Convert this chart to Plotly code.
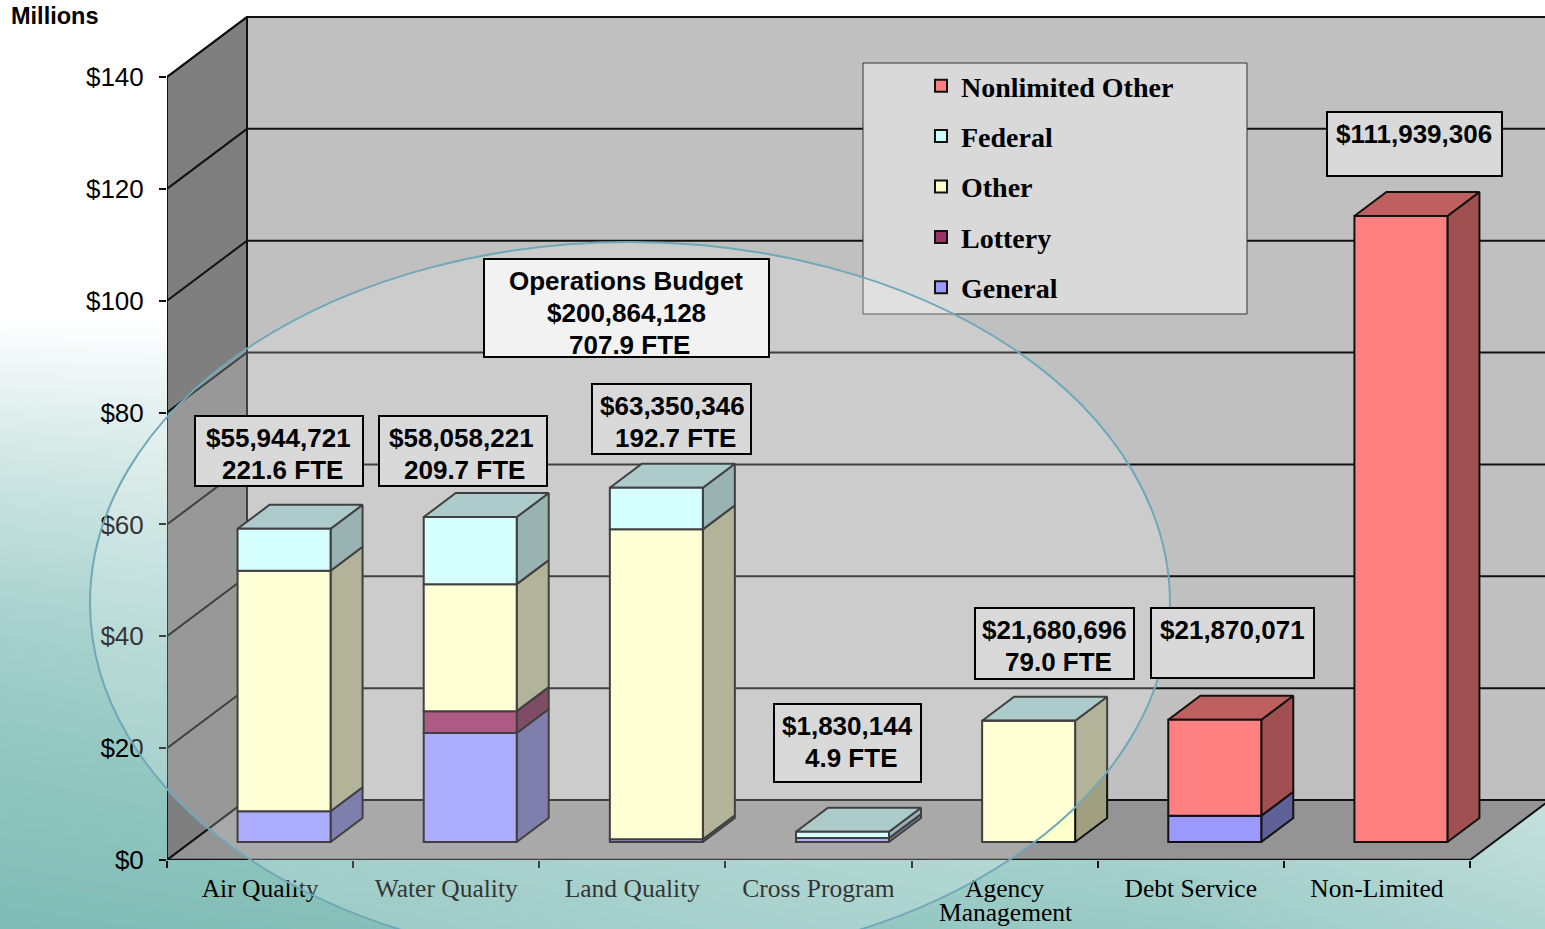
import plotly.graph_objects as go

W, H = 1545, 929

CATEGORIES = ["Air Quality", "Water Quality", "Land Quality", "Cross Program",
              "Agency", "Debt Service", "Non-Limited"]
CATEGORY_SECOND_LINE = "Management"   # second line of the "Agency Management" label
GENERAL = [5.5, 19.5, 0.5, 0.7, None, 4.7, None]
LOTTERY = [None, 3.9, None, None, None, None, None]
OTHER = [43.0, 22.7, 55.4, None, 21.68, None, None]
FEDERAL = [7.5, 12.0, 7.45, 1.13, 0.0, None, None]
NONLIMITED = [None, None, None, None, None, 17.17, 111.94]

SERIES_NAMES = ["General", "Lottery", "Other", "Federal", "Nonlimited Other"]
SERIES_VALUES = [GENERAL, LOTTERY, OTHER, FEDERAL, NONLIMITED]
SERIES_COLORS = ["#9999FF", "#993366", "#FFFFCC", "#CCFFFF", "#FF8080"]
SIDE_COLORS = ["#606099", "#602040", "#A0A080", "#80A0A0", "#A05050"]
TOP_COLORS = ["#7373BF", "#732650", "#BFBF99", "#99BFBF", "#BF6060"]

Y_TICKS = [0, 20, 40, 60, 80, 100, 120, 140]
Y_LABELS = ["$0", "$20", "$40", "$60", "$80", "$100", "$120", "$140"]

BOX_LINES = [
    ["$55,944,721", "221.6 FTE"],
    ["$58,058,221", "209.7 FTE"],
    ["$63,350,346", "192.7 FTE"],
    ["$1,830,144", "4.9 FTE"],
    ["$21,680,696", "79.0 FTE"],
    ["$21,870,071"],
    ["$111,939,306"],
    ["Operations Budget", "$200,864,128", "707.9 FTE"],
]
BOX_RECTS = [(195, 416, 363, 486), (379, 416, 547, 486), (592, 384, 751, 454),
             (774, 704, 921, 782), (975, 608, 1134, 679), (1151, 608, 1314, 678),
             (1327, 112, 1502, 176), (484, 259, 769, 357)]
BOX_FILLS = ["#D9D9D9"] * 7 + ["#F2F2F2"]
BOX_TEXT_X = [(278, 282), (461, 465), (672, 675), (847, 851), (1054, 1058),
              (1232,), (1414,), (626, 626, 629)]
BOX_TEXT_Y = [(438, 470), (438, 470), (406, 438), (726, 758), (630, 662),
              (630,), (134,), (281, 313, 345)]

# Backdrop tint (0 = white, 1 = deepest teal)
BG_X = [0, 400, 800, 1200, 1545]
BG_Y = [0, 320, 400, 500, 640, 780, 929]
BG_TINT = [
    [0.00, 0.00, 0.00, 0.00, 0.00],
    [0.00, 0.00, 0.00, 0.00, 0.00],
    [0.22, 0.15, 0.10, 0.05, 0.00],
    [0.45, 0.34, 0.25, 0.15, 0.10],
    [0.72, 0.60, 0.48, 0.38, 0.25],
    [0.88, 0.80, 0.70, 0.58, 0.42],
    [1.00, 0.95, 0.85, 0.78, 0.62],
]

# Plot geometry
PX_X = 186.14          # px per category
PX_Y = 783 / 140       # px per million
X0_PX, Y0_PX = 167, 860
X_MAX = (W - X0_PX) / PX_X
Y_MAX = Y0_PX / PX_Y
WALL_DX, WALL_DY = 80 / PX_X, 60 / PX_Y
FRONT_DX, FRONT_DY = 0.3 * WALL_DX, 0.3 * WALL_DY
SIDE_DX, SIDE_DY = 0.4 * WALL_DX, 0.4 * WALL_DY
BAR_W = 93 / PX_X
N = len(CATEGORIES)
LINE = "#111111"


def fx(px):
    return px / W


def fy(px):
    return 1 - px / H


fig = go.Figure()

# backdrop
fig.add_trace(go.Heatmap(x=BG_X, y=BG_Y, z=BG_TINT, zmin=0, zmax=1, zsmooth="best",
                         colorscale=[[0, "#FFFFFF"], [1, "#7FBCB5"]], showscale=False,
                         hoverinfo="skip", xaxis="x", yaxis="y"))


def poly(xs, ys, fill, line=LINE, width=2):
    fig.add_trace(go.Scatter(x=xs, y=ys, mode="lines", fill="toself", fillcolor=fill,
                             line=dict(color=line, width=width), showlegend=False,
                             hoverinfo="skip", xaxis="x2", yaxis="y2"))


def seg(xs, ys, width=2.0):
    fig.add_trace(go.Scatter(x=xs, y=ys, mode="lines", line=dict(color=LINE, width=width),
                             showlegend=False, hoverinfo="skip", xaxis="x2", yaxis="y2"))


# walls and floor
TOP = Y_TICKS[-1]
poly([WALL_DX, X_MAX + 1, X_MAX + 1, WALL_DX, WALL_DX],
     [WALL_DY, WALL_DY, TOP + WALL_DY, TOP + WALL_DY, WALL_DY], "#C0C0C0", width=2)
poly([0, WALL_DX, WALL_DX, 0, 0], [0, WALL_DY, TOP + WALL_DY, TOP, 0], "#7F7F7F", width=2)
poly([0, N, N + WALL_DX, WALL_DX, 0], [0, 0, WALL_DY, WALL_DY, 0], "#949494", width=2)
for v in Y_TICKS[1:]:
    seg([0, WALL_DX, X_MAX + 1], [v, v + WALL_DY, v + WALL_DY])
seg([0, N], [0, 0], 2.5)

# bar side and top faces, computed from the stacked values
for i in range(N):
    x_r = i + 0.5 + FRONT_DX + BAR_W / 2
    x_l = x_r - BAR_W
    base = FRONT_DY
    top_idx = None
    for s, vals in enumerate(SERIES_VALUES):
        v = vals[i]
        if v is None:
            continue
        top_idx = s
        if v > 0:
            poly([x_r, x_r + SIDE_DX, x_r + SIDE_DX, x_r, x_r],
                 [base, base + SIDE_DY, base + v + SIDE_DY, base + v, base], SIDE_COLORS[s])
        base += v
    poly([x_l, x_r, x_r + SIDE_DX, x_l + SIDE_DX, x_l],
         [base, base, base + SIDE_DY, base + SIDE_DY, base], TOP_COLORS[top_idx])

# bar front faces
bases = [FRONT_DY] * N
for s, vals in enumerate(SERIES_VALUES):
    fig.add_trace(go.Bar(
        x=[i + 0.5 + FRONT_DX for i in range(N)], y=vals, base=list(bases), width=BAR_W,
        name=SERIES_NAMES[s], marker=dict(color=SERIES_COLORS[s], line=dict(color=LINE, width=2)),
        legendgroup=SERIES_NAMES[s], legendrank=len(SERIES_NAMES) - s,
        hoverinfo="skip", xaxis="x3", yaxis="y3"))
    bases = [b + (v or 0) for b, v in zip(bases, vals)]

shapes = [
    dict(type="rect", xref="paper", yref="paper", x0=fx(863), x1=fx(1247), y0=fy(314), y1=fy(63),
         fillcolor="#D9D9D9", line=dict(color="#333333", width=1)),
    dict(type="circle", xref="paper", yref="paper", x0=fx(90), x1=fx(1170), y0=fy(964), y1=fy(242),
         fillcolor="rgba(255,255,255,0.2)", line=dict(color="#6FA8B8", width=2)),
]
annotations = [
    dict(text="Millions", xref="paper", yref="paper", x=fx(9), y=fy(16),
         xanchor="left", yanchor="middle", showarrow=False,
         font=dict(family="Liberation Sans", size=23.5, weight=700, color="#000000")),
    dict(text=CATEGORY_SECOND_LINE, xref="paper", yref="paper", x=fx(1005), y=fy(912),
         xanchor="center", yanchor="middle", showarrow=False,
         font=dict(family="Liberation Serif", size=25.5, color="#000000")),
]
for lines, rect, fill, xs, ys in zip(BOX_LINES, BOX_RECTS, BOX_FILLS, BOX_TEXT_X, BOX_TEXT_Y):
    shapes.append(dict(type="rect", xref="paper", yref="paper", x0=fx(rect[0]), x1=fx(rect[2]),
                       y0=fy(rect[3]), y1=fy(rect[1]), fillcolor=fill,
                       line=dict(color="#000000", width=2)))
    for t, x, y in zip(lines, xs, ys):
        annotations.append(dict(text=t, xref="paper", yref="paper", x=fx(x), y=fy(y),
                                xanchor="center", yanchor="middle", showarrow=False,
                                font=dict(family="Liberation Sans", size=26, weight=700, color="#000000")))

x_dom = [X0_PX / W, 1]
y_dom = [(H - Y0_PX) / H, 1]
hidden = dict(visible=False, fixedrange=True)
fig.update_layout(
    width=W, height=H, autosize=False,
    margin=dict(l=0, r=0, t=0, b=0, pad=0, autoexpand=False),
    paper_bgcolor="#FFFFFF", plot_bgcolor="rgba(0,0,0,0)",
    barmode="overlay", shapes=shapes, annotations=annotations,
    xaxis=dict(domain=[0, 1], range=[0, W], anchor="y", **hidden),
    yaxis=dict(domain=[0, 1], range=[H, 0], anchor="x", **hidden),
    xaxis2=dict(domain=x_dom, range=[0, X_MAX], anchor="y2", **hidden),
    yaxis2=dict(domain=y_dom, range=[0, Y_MAX], anchor="x2", **hidden),
    xaxis3=dict(domain=x_dom, range=[0, X_MAX], anchor="y3", fixedrange=True, showgrid=False,
                zeroline=False, showline=False, tickmode="array", automargin=False,
                tickvals=[i + 0.5 for i in range(N)], ticktext=CATEGORIES, ticks="", ticklen=0,
                tickangle=0, tickfont=dict(family="Liberation Serif", size=25.5, color="#000000"),
                ticklabelstandoff=10,
                minor=dict(tickmode="array", tickvals=list(range(N + 1)), ticks="outside",
                           ticklen=7, tickwidth=1.5, tickcolor=LINE, showgrid=False)),
    yaxis3=dict(domain=y_dom, range=[0, Y_MAX], anchor="x3", fixedrange=True, showgrid=False,
                zeroline=False, showline=False, tickmode="array", tickvals=Y_TICKS, ticktext=Y_LABELS,
                automargin=False,
                ticks="outside", ticklen=7, tickwidth=1.5, tickcolor=LINE, ticklabelstandoff=10,
                tickfont=dict(family="Liberation Sans", size=26, color="#000000")),
    legend=dict(x=fx(921), y=fy(61), xanchor="left", yanchor="top", bgcolor="rgba(0,0,0,0)",
                traceorder="grouped", tracegroupgap=11, borderwidth=0,
                font=dict(family="Liberation Serif", size=28, weight=700, color="#000000")),
    showlegend=True,
)
fig.write_html("out.html", config={"responsive": False, "displayModeBar": False},
               default_width="1545px", default_height="929px",
               post_script="document.documentElement.style.margin='0';"
                           "document.body.style.margin='0';document.body.style.overflow='hidden';")
